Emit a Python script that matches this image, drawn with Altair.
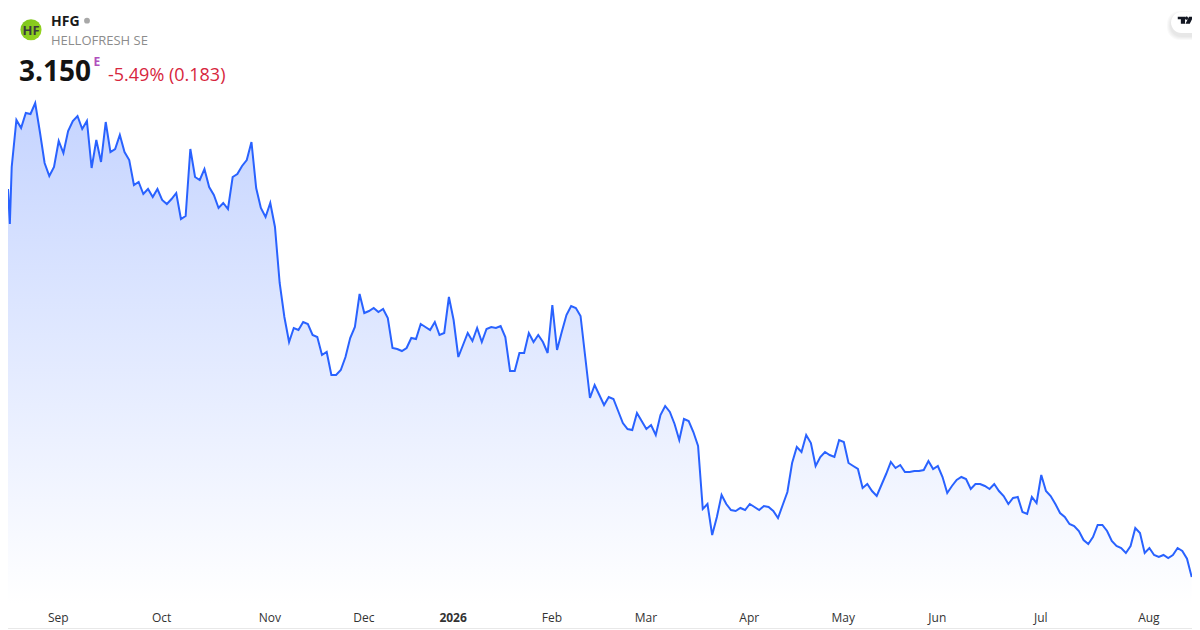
import altair as alt
import pandas as pd

prices = [
 7.03,6.68,7.25,7.72,7.64,7.79,7.78,7.89,7.60,7.29,7.16,7.25,7.51,7.39,7.61,7.71,7.76,7.63,7.71,7.24,
 7.52,7.30,7.70,7.40,7.43,7.57,7.40,7.32,7.07,7.10,6.98,7.03,6.95,7.03,6.92,6.88,6.93,6.99,6.73,6.76,
 7.43,7.15,7.12,7.23,7.05,6.97,6.84,6.89,6.83,7.15,7.18,7.26,7.32,7.50,7.04,6.84,6.75,6.89,6.65,6.09,
 5.75,5.50,5.64,5.62,5.70,5.68,5.57,5.55,5.37,5.40,5.17,5.17,5.22,5.35,5.54,5.65,5.98,5.79,5.81,5.84,
 5.80,5.83,5.74,5.44,5.43,5.41,5.44,5.54,5.53,5.68,5.65,5.62,5.70,5.57,5.59,5.95,5.72,5.35,5.47,5.59,
 5.51,5.64,5.50,5.63,5.65,5.64,5.66,5.55,5.21,5.21,5.39,5.39,5.59,5.50,5.57,5.50,5.39,5.87,5.42,5.60,
 5.77,5.86,5.84,5.76,5.35,4.94,5.07,4.97,4.87,4.95,4.93,4.81,4.69,4.63,4.62,4.79,4.71,4.63,4.67,4.57,
 4.77,4.86,4.80,4.68,4.52,4.73,4.71,4.60,4.46,3.83,3.88,3.57,3.75,3.97,3.88,3.82,3.81,3.84,3.82,3.88,
 3.85,3.82,3.86,3.85,3.81,3.74,3.87,4.00,4.29,4.45,4.40,4.57,4.49,4.26,4.35,4.40,4.37,4.35,4.52,4.50,
 4.29,4.26,4.23,4.04,4.08,4.01,3.96,4.07,4.18,4.30,4.24,4.27,4.20,4.20,4.21,4.21,4.22,4.31,4.23,4.26,
 4.15,3.99,4.06,4.12,4.15,4.13,4.03,4.08,4.08,4.06,4.03,4.08,4.01,3.96,3.88,3.94,3.95,3.80,3.78,3.95,
 3.89,4.17,4.01,3.96,3.88,3.79,3.75,3.68,3.66,3.61,3.52,3.48,3.55,3.67,3.67,3.61,3.51,3.46,3.44,3.39,
 3.46,3.64,3.59,3.39,3.44,3.37,3.35,3.37,3.34,3.37,3.44,3.41,3.333,3.15,
]
month_idx = [12, 34, 57, 77, 96, 117, 137, 159, 179, 199, 221, 244]
month_lbl = ["Sep", "Oct", "Nov", "Dec", "2026", "Feb", "Mar", "Apr", "May", "Jun", "Jul", "Aug"]
y_floor = 2.88

df = pd.DataFrame({"i": range(len(prices)), "p": prices})
last = len(prices) - 1

F = "Open Sans"
xs = alt.X("i:Q", title=None,
           scale=alt.Scale(domain=[0, 2, last], range=[0, 3.7, 1183.7], nice=False, zero=False),
           axis=alt.Axis(values=month_idx, domain=False, ticks=False, grid=False,
                         labelFont=F, labelFontSize=12, labelColor="#333333", labelPadding=8,
                         labelAlign="center", labelOverlap=False, labelFlush=False, labelOffset=-1,
                         labelFontWeight=alt.condition("datum.value == 96", alt.value("bold"), alt.value("normal")),
                         labelExpr="%s[indexof(%s, datum.value)]" % (str(month_lbl), str(month_idx))))
ys = alt.Y("p:Q", title=None, scale=alt.Scale(domain=[y_floor, 8.84], nice=False, zero=False), axis=None)

base = alt.Chart(df).encode(x=xs, y=ys)
area = base.mark_area(
    line=False,
    color=alt.Gradient(gradient="linear", x1=0, x2=0, y1=0, y2=1,
                       stops=[alt.GradientStop(color="#c5d4ff", offset=0),
                              alt.GradientStop(color="#ffffff", offset=1)])
).encode(y2=alt.Y2(datum=y_floor))
line = base.mark_line(color="#2962ff", strokeWidth=2, interpolate="linear")

one = alt.Data(values=[{"a": 1}])
def txt(s, x, y, size, color, weight="normal", align="left"):
    return alt.Chart(one).mark_text(font=F, fontSize=size, color=color, fontWeight=weight,
                                    align=align, baseline="alphabetic").encode(
        x=alt.value(x - 8), y=alt.value(y - 8), text=alt.value(s))

def box(x, x2, y, y2, color, op=1.0, **kw):
    return alt.Chart(one).mark_rect(color=color, opacity=op, **kw).encode(
        x=alt.value(x - 8), x2=alt.value(x2 - 8), y=alt.value(y - 8), y2=alt.value(y2 - 8))

logo = alt.Chart(one).mark_circle(
    size=445, opacity=1,
    color=alt.Gradient(gradient="linear", x1=0, x2=1, y1=0, y2=1,
                       stops=[alt.GradientStop(color="#7cc41c", offset=0),
                              alt.GradientStop(color="#9ad61f", offset=1)])
).encode(x=alt.value(31 - 8), y=alt.value(29.7 - 8))
dot = alt.Chart(one).mark_circle(size=34, opacity=1, color="#a8a8a8").encode(x=alt.value(87 - 8), y=alt.value(20.7 - 8))

TV = "M-1 -.45H-.06V.46H-.6V-.12H-1ZM.33 -.28A.2 .2 0 1 1 -.07 -.28A.2 .2 0 1 1 .33 -.28ZM.45 -.45H1L.55 .46H0Z"
tv = alt.Chart(one).mark_point(shape=TV, filled=True, opacity=1, color="#131722", size=240).encode(
    x=alt.value(1185.5 - 8), y=alt.value(20.3 - 8))

rules = [
    alt.Chart(one).mark_rule(color="#e8e8e8", strokeWidth=1).encode(
        x=alt.value(0), x2=alt.value(1184), y=alt.value(620.5)),
]

shadow = [box(1171 - d, 1192, 12 - d + 3, 33 + d + 3, "#000000", 0.025, cornerRadiusTopLeft=11 + d, cornerRadiusBottomLeft=11 + d)
          for d in (4, 3, 2, 1)]
badge = box(1171, 1192, 12, 33, "#ffffff", 1.0, cornerRadiusTopLeft=11, cornerRadiusBottomLeft=11)

chart = alt.layer(
    area, line, *rules, *shadow, badge, tv, logo, dot,
    txt("HF", 31, 35, 13, "#3c3c3c", "bold", "center"),
    txt("HFG", 51, 26, 14, "#1a1a1a", "bold"),
    txt("HELLOFRESH SE", 51, 45, 13, "#8c8c8c"),
    txt("3.150", 19, 81, 28, "#131313", "bold"),
    txt("E", 93.5, 66, 12, "#b14fbd", "bold"),
    txt("-5.49% (0.183)", 108, 81, 18, "#d7263d"),
).properties(
    width=1184, height=596, background="#ffffff",
    padding={"left": 0, "top": 0, "right": 0, "bottom": 26},
    autosize=alt.AutoSizeParams(type="none", contains="content"),
).configure_view(stroke=None)

chart.save("out.html", embed_options={"renderer": "svg", "actions": False})
